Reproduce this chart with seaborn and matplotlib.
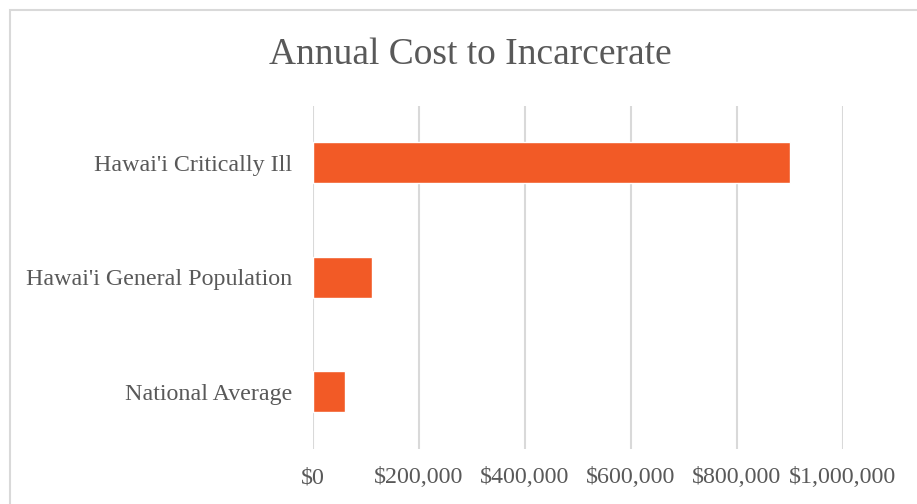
import matplotlib
matplotlib.use("Agg")
import matplotlib.pyplot as plt
import matplotlib.patches as patches
from matplotlib.ticker import FuncFormatter
import seaborn as sns
import pandas as pd

# Chart data
categories = ["Hawai'i Critically Ill", "Hawai'i General Population", "National Average"]
annual_cost = [900000, 111000, 60000]

df = pd.DataFrame({"category": categories, "cost": annual_cost})

sns.set_theme(style="white")
plt.rcParams['font.family'] = ['Liberation Serif', 'DejaVu Serif']

text_color = '#595959'
grid_color = '#D9D9D9'
bar_color = '#F25A26'

fig = plt.figure(figsize=(9.17, 5.04), dpi=100)
ax = fig.add_axes([313 / 917, 1 - 449 / 504, 530 / 917, 343.5 / 504])

sns.barplot(data=df, x="cost", y="category", color=bar_color, width=0.36,
            saturation=1, ax=ax, orient="h")

ax.set_xlim(0, 1000000)
ax.set_xticks(range(0, 1000001, 200000))
ax.xaxis.set_major_formatter(FuncFormatter(lambda v, p: f"${v:,.0f}"))
ax.set_ylim(2.5, -0.5)
ax.set_xlabel("")
ax.set_ylabel("")

ax.grid(axis='x', color=grid_color, linewidth=1.5)
ax.set_axisbelow(True)
for s in ax.spines.values():
    s.set_visible(False)
ax.tick_params(axis='x', length=0, pad=13, labelsize=17.3, labelcolor=text_color)
ax.tick_params(axis='y', length=0, pad=15, labelsize=17.3, labelcolor=text_color)

fig.text(470.5 / 917, 1 - 55 / 504, "Annual Cost to Incarcerate", ha='center', va='center',
         fontsize=27, color=text_color)

# chart-area border (only top and left visible in the crop)
border = patches.Rectangle((9.5 / 917, -0.1), 1.2, (504 - 9.5) / 504 + 0.1,
                           transform=fig.transFigure, fill=False,
                           edgecolor=grid_color, linewidth=1.5)
fig.patches.append(border)

fig.savefig("out.png", dpi=100)
